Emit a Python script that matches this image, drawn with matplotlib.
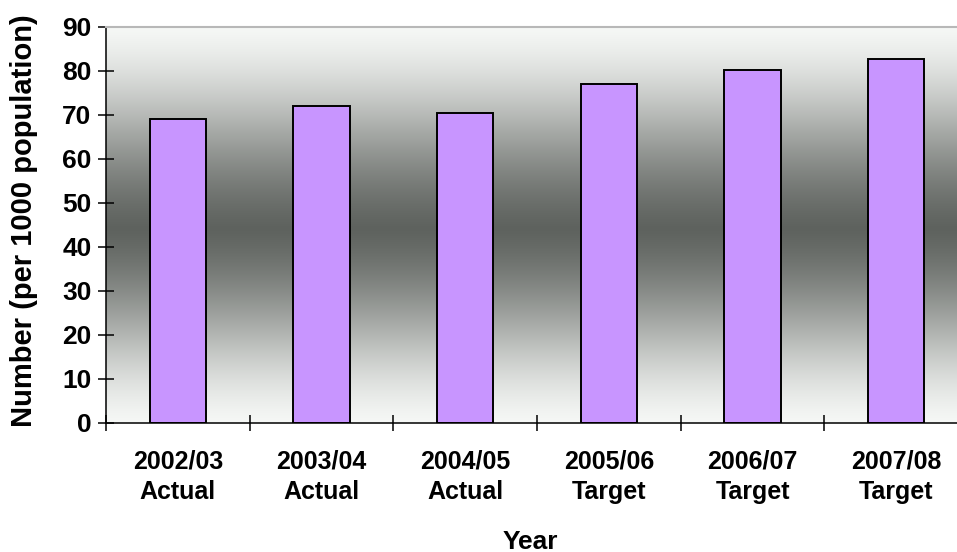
import numpy as np
import matplotlib
matplotlib.use('Agg')
import matplotlib.pyplot as plt

plt.rcParams['font.family'] = ['Liberation Sans', 'DejaVu Sans']
plt.rcParams['font.weight'] = 'bold'

years = ['2002/03', '2003/04', '2004/05', '2005/06', '2006/07', '2007/08']
status = ['Actual', 'Actual', 'Actual', 'Target', 'Target', 'Target']
values = [69.0, 72.0, 70.5, 77.0, 80.2, 82.8]
yticks = [0, 10, 20, 30, 40, 50, 60, 70, 80, 90]

bar_color = '#C895FF'
light = np.array([246, 248, 246]) / 255.
dark = np.array([94, 98, 94]) / 255.

fig = plt.figure(figsize=(9.57, 5.52), dpi=100)
# plot area runs a little past the right edge of the figure
ax = fig.add_axes([106 / 957, 1 - 423 / 552, 862 / 957, 396 / 552])

# two-colour vertical fill: light at top and bottom, dark in the middle
t = np.linspace(0, 1, 400)[:, None]
centre = 0.49
lin = np.clip(np.where(t < centre, t / centre, (1 - t) / (1 - centre)), 0, 1)
w = 0.5 * lin + 0.5 * (0.5 - 0.5 * np.cos(np.pi * lin))
grad = light[None, :] * (1 - w) + dark[None, :] * w
grad = grad[:, None, :]
ax.imshow(grad, extent=[-0.5, 5.5, 0, 90], origin='lower', aspect='auto',
          zorder=0, interpolation='bilinear')

x = np.arange(len(years))
ax.bar(x, values, width=0.39, color=bar_color, edgecolor='black',
       linewidth=1.4, zorder=2)

ax.set_xlim(-0.5, 5.5)
ax.set_ylim(0, 90)
ax.set_yticks(yticks)
ax.tick_params(axis='y', direction='inout', length=11, width=1.1,
               labelsize=19, pad=5)

# ticks between categories, labels under each bar
ax.set_xticks(np.arange(-0.5, 6, 1.0))
ax.set_xticklabels([])
ax.set_xticks(x, minor=True)
ax.set_xticklabels(['{}\n{}'.format(y, s) for y, s in zip(years, status)],
                   minor=True, fontsize=18, linespacing=1.35)
ax.tick_params(axis='x', which='major', direction='inout', length=11, width=1.1)
ax.tick_params(axis='x', which='minor', length=0, pad=19)

for lab in ax.get_yticklabels() + ax.get_xticklabels(minor=True):
    lab.set_fontweight('bold')

ax.spines['left'].set_linewidth(1.1)
ax.spines['bottom'].set_linewidth(1.1)
ax.spines['top'].set_color('#B8B8B8')
ax.spines['top'].set_linewidth(1.5)
ax.spines['right'].set_visible(False)

ax.set_ylabel('Number (per 1000 population)', fontsize=21, fontweight='bold',
              va='center')
ax.yaxis.set_label_coords(-0.095, 0.51)
ax.set_xlabel('Year', fontsize=19, fontweight='bold', va='center')
ax.xaxis.set_label_coords(0.492, -0.30)

fig.savefig('out.png', dpi=100)
